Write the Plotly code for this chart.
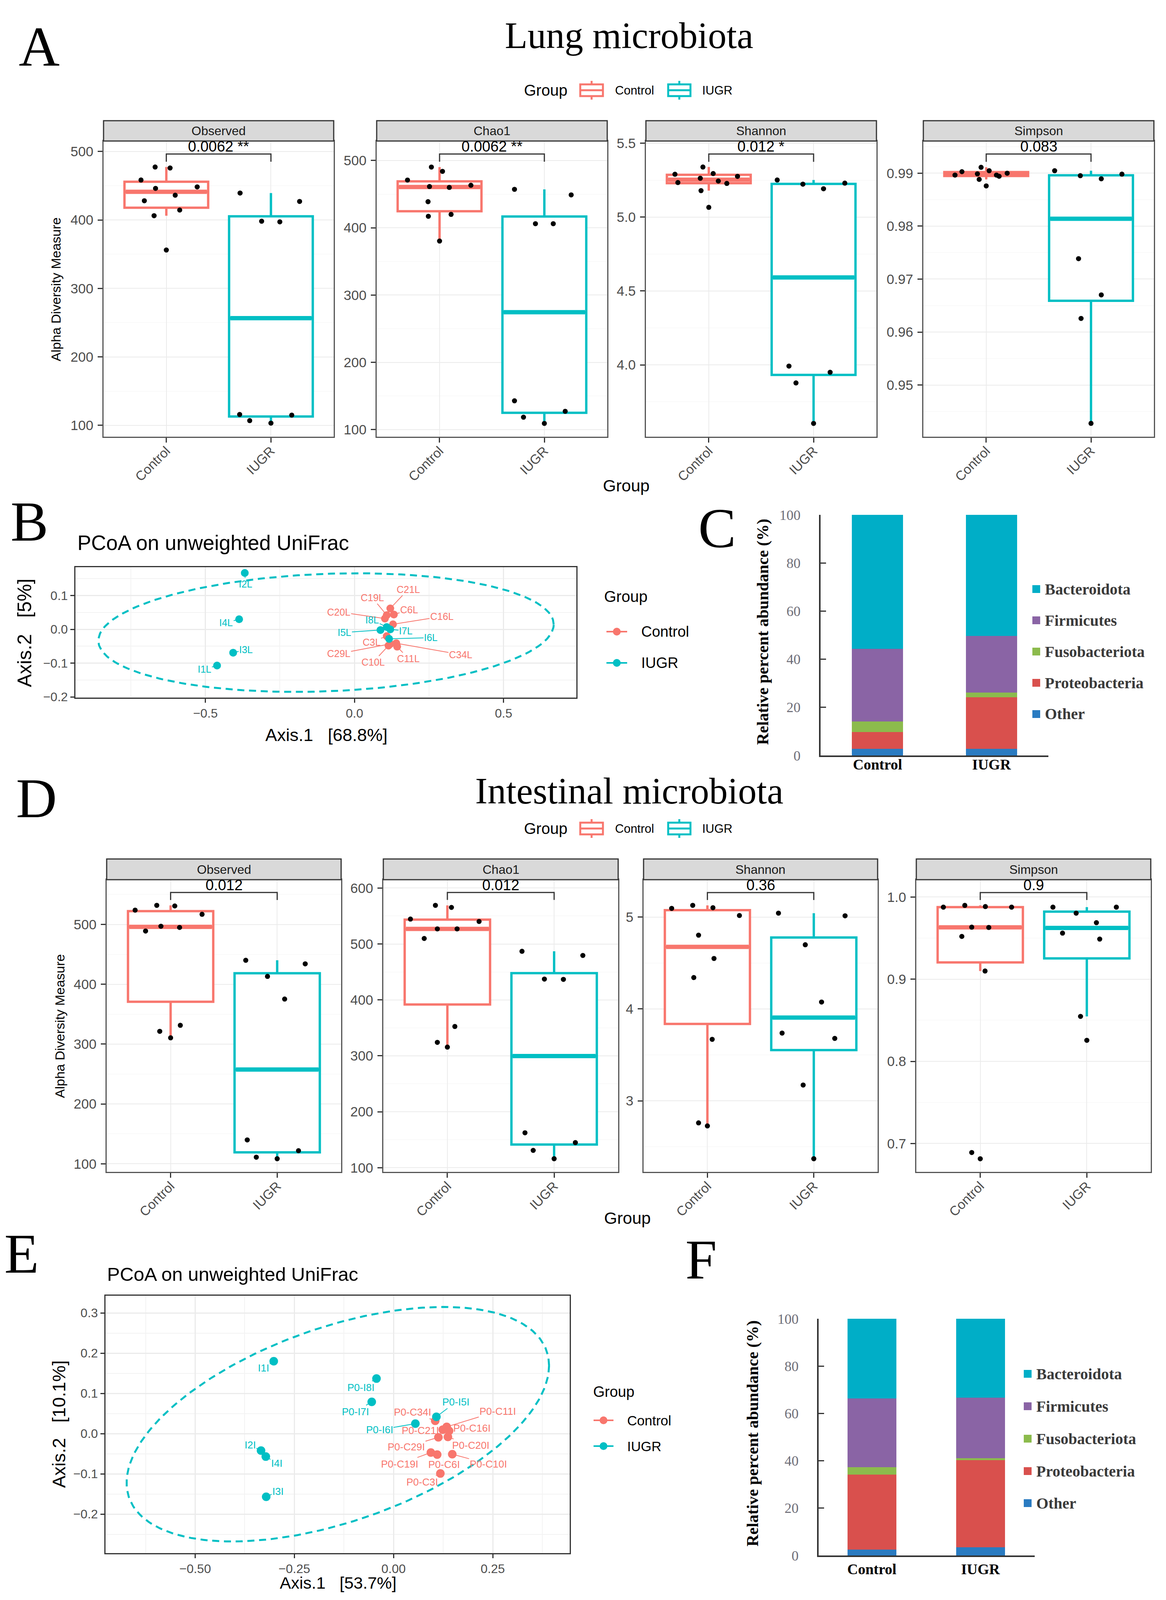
import numpy as np
import plotly.graph_objects as go

W, H = 2984, 4102
OFF = 8  # page body margin compensation (px)

# ===================== DATA =====================
groups = ["Control", "IUGR"]
metrics = ["Observed", "Chao1", "Shannon", "Simpson"]

# Panel A - lung alpha diversity
lung_observed_control = [477.4, 476.0, 458.4, 446.2, 448.4, 436.2, 428.1, 414.5, 406.3, 356.1]
lung_observed_iugr = [439.4, 427.1, 398.2, 397.3, 115.8, 106.8, 103.2, 114.9]
lung_chao1_control = [471.0, 490.3, 483.9, 461.3, 460.0, 463.2, 438.8, 417.1, 419.9, 380.3]
lung_chao1_iugr = [457.2, 448.9, 406.1, 406.1, 142.8, 118.4, 109.2, 127.2]
lung_shannon_control = [5.339, 5.290, 5.295, 5.263, 5.276, 5.234, 5.244, 5.228, 5.179, 5.066]
lung_shannon_iugr = [5.251, 5.223, 5.192, 5.230, 3.992, 3.878, 3.950, 3.604]
lung_simpson_control = [0.98965, 0.99029, 0.99111, 0.98988, 0.99047, 0.98965, 0.98942, 0.99000, 0.98883, 0.98760]
lung_simpson_iugr = [0.99047, 0.98953, 0.98895, 0.98982, 0.97386, 0.96702, 0.96257, 0.94275]
lung_pvalues = ["0.0062 **", "0.0062 **", "0.012 *", "0.083"]

# Panel D - intestinal alpha diversity
int_observed_control = [523.9, 531.9, 530.9, 517.0, 489.0, 497.0, 495.0, 331.4, 321.4, 310.5]
int_observed_iugr = [440.1, 434.2, 413.2, 375.3, 139.9, 111.0, 108.5, 121.9]
int_chao1_control = [544.5, 569.0, 565.3, 540.2, 526.9, 526.9, 509.8, 352.4, 324.1, 315.6]
int_chao1_iugr = [486.9, 479.4, 437.2, 436.7, 162.4, 130.9, 116.0, 144.8]
int_shannon_control = [5.094, 5.127, 5.101, 5.016, 4.802, 4.549, 4.341, 3.669, 2.760, 2.727]
int_shannon_iugr = [5.042, 5.013, 4.698, 4.075, 3.737, 3.679, 3.172, 2.370]
int_simpson_control = [0.98765, 0.98983, 0.98838, 0.98765, 0.96331, 0.96295, 0.95205, 0.90992, 0.68906, 0.68144]
int_simpson_iugr = [0.98765, 0.98765, 0.98039, 0.96876, 0.95605, 0.94878, 0.85471, 0.82564]
int_pvalues = ["0.012", "0.012", "0.36", "0.9"]

# Panel B - lung PCoA (unweighted UniFrac)
lung_ctrl_ids = ["C21L", "C19L", "C6L", "C20L", "C16L", "C3L", "C29L", "C34L", "C10L", "C11L"]
lung_ctrl_axis1 = [0.120, 0.108, 0.132, 0.102, 0.129, 0.108, 0.120, 0.140, 0.114, 0.143]
lung_ctrl_axis2 = [0.062, 0.042, 0.044, 0.032, 0.015, -0.020, -0.043, -0.041, -0.048, -0.051]
lung_iugr_ids = ["I1L", "I2L", "I3L", "I4L", "I5L", "I6L", "I7L", "I8L"]
lung_iugr_axis1 = [-0.461, -0.368, -0.407, -0.387, 0.087, 0.116, 0.120, 0.108]
lung_iugr_axis2 = [-0.107, 0.167, -0.069, 0.030, -0.002, -0.028, 0.000, 0.007]

# Panel E - intestinal PCoA
int_ctrl_ids = ["P0-C34I", "P0-C21I", "P0-C11I", "P0-C16I", "P0-C20I", "P0-C29I", "P0-C19I", "P0-C6I", "P0-C10I", "P0-C3I"]
int_ctrl_axis1 = [0.105, 0.124, 0.134, 0.140, 0.137, 0.113, 0.094, 0.110, 0.148, 0.118]
int_ctrl_axis2 = [0.032, 0.010, 0.017, 0.007, -0.008, -0.009, -0.047, -0.052, -0.051, -0.099]
int_iugr_ids = ["I1I", "P0-I8I", "P0-I7I", "P0-I6I", "P0-I5I", "I2I", "I4I", "I3I"]
int_iugr_axis1 = [-0.302, -0.043, -0.055, 0.055, 0.108, -0.334, -0.322, -0.321]
int_iugr_axis2 = [0.180, 0.137, 0.079, 0.025, 0.042, -0.042, -0.057, -0.157]

# Panels C / F - phylum composition (%), stacked bottom to top
phyla = ["Other", "Proteobacteria", "Fusobacteriota", "Firmicutes", "Bacteroidota"]
lung_phyla_control = [2.75, 7.0, 4.3, 30.3, 55.65]
lung_phyla_iugr = [2.75, 21.4, 2.0, 23.5, 50.35]
int_phyla_control = [2.5, 31.6, 3.2, 29.0, 33.7]
int_phyla_iugr = [3.4, 36.9, 0.8, 25.5, 33.4]

# ===================== POSITIONS / STYLES =====================
lung_jitter = [
    ([-0.107, 0.036, -0.242, -0.103, 0.295, 0.085, -0.210, 0.128, -0.117, 0.0],
     [-0.295, 0.274, -0.089, 0.085, -0.299, -0.203, 0.0, 0.199]),
    ([-0.306, -0.078, 0.028, -0.096, 0.093, 0.299, -0.110, -0.107, 0.110, 0.0],
     [-0.285, 0.256, -0.085, 0.085, -0.285, -0.199, 0.0, 0.199]),
    ([-0.056, -0.323, 0.042, -0.081, 0.274, -0.295, 0.091, 0.172, -0.074, 0.0],
     [-0.347, -0.102, 0.095, 0.298, -0.235, -0.168, 0.158, 0.0]),
    ([-0.298, -0.232, -0.049, -0.084, 0.028, 0.098, 0.123, 0.200, -0.067, 0.0],
     [-0.347, -0.102, 0.098, 0.295, -0.119, 0.098, -0.095, 0.0]),
]
int_jitter = [
    ([-0.333, -0.130, 0.039, 0.295, -0.235, -0.091, 0.084, 0.091, -0.102, 0.0],
     [-0.295, 0.263, -0.091, 0.070, -0.281, -0.196, 0.0, 0.200]),
    ([-0.346, -0.112, 0.038, 0.297, -0.094, 0.091, -0.217, 0.070, -0.094, 0.0],
     [-0.301, 0.269, -0.091, 0.087, -0.273, -0.196, 0.0, 0.199]),
    ([-0.336, -0.138, 0.052, 0.301, -0.083, 0.062, -0.128, 0.045, -0.083, 0.0],
     [-0.332, 0.294, -0.080, 0.073, -0.298, 0.197, -0.100, 0.0]),
    ([-0.346, -0.145, 0.048, 0.294, -0.080, 0.080, -0.173, 0.045, -0.080, 0.0],
     [-0.318, 0.277, -0.100, 0.090, -0.228, 0.121, -0.059, 0.0]),
]
lung_bracket = [(496.4, 485.1), (509.7, 498.2), (5.427, 5.374), (0.99363, 0.99216)]
int_bracket = [(553.4, 540.9), (592.0, 578.7), (5.266, 5.185), (1.00545, 0.99637)]
lung_yranges = [[83.3, 515.4], [89.4, 529.0], [3.514, 5.515], [0.94023, 0.99608]]
int_yranges = [[86.5, 574.8], [92.5, 614.9], [2.227, 5.406], [0.6655, 1.0211]]
lung_ticks = [(100, 50, "d"), (100, 50, "d"), (0.5, 0.25, ".1f"), (0.01, 0.005, ".2f")]
int_ticks = [(100, 50, "d"), (100, 50, "d"), (1, 0.5, "d"), (0.1, 0.05, ".1f")]
lung_xpx = [(265, 854), (964, 1554), (1653, 2243), (2363, 2953)]
int_xpx = [(273, 873), (981, 1582), (1647, 2246), (2345, 2945)]

lung_ctrl_off = [(46, -49), (-37, -45), (39, -12), (-118, -17), (125, -20), (-39, 15), (-132, 25), (165, 29), (-39, 42), (29, 31)]
lung_iugr_off = [(-32, 9), (2, 28), (33, -8), (-33, 9), (-92, 6), (107, -3), (40, 4), (-37, -18)]
int_ctrl_off = [(-58, -22), (-58, 2), (130, -40), (58, -7), (58, 22), (-82, 25), (-80, 29), (18, 25), (92, 25), (-46, 22)]
int_iugr_off = [(-26, 17), (-40, 23), (-42, 25), (-92, 16), (50, -38), (-28, -14), (28, 17), (30, -14)]

lung_ellipse = dict(cx=-0.0955, cy=-0.0095, rx=0.7635, ry=0.1755, d=0.137)
int_ellipse = dict(cx=-0.1405, cy=0.0235, rx=0.5325, ry=0.2915, d=0.523)

COL = {"Control": "#F8766D", "IUGR": "#00BFC4"}
PHY_COL = {"Other": "#2A7BC1", "Proteobacteria": "#D9504D", "Fusobacteriota": "#8CBB4C",
           "Firmicutes": "#8A64A5", "Bacteroidota": "#00AEC7"}
SANS = "Liberation Sans"
SERIF = "Liberation Serif"
TICKGRAY = "#4D4D4D"

fig = go.Figure()
layout = {}
annotations = []
shapes = []


def names(i):
    s = "" if i == 1 else str(i)
    return "x" + s, "y" + s, "xaxis" + s, "yaxis" + s


def fx(px):
    return (px - OFF) / W


def fy(py):
    return 1 - (py - OFF) / H


def dom_x(a, b):
    return [fx(a), fx(b)]


def dom_y(top, bottom):
    return [fy(bottom), fy(top)]


def ptext(x, y, text, size, family=SANS, anchor="center", angle=0, weight="normal", color="black"):
    annotations.append(dict(x=fx(x), y=fy(y), xref="paper", yref="paper", text=text, showarrow=False,
                            textangle=angle, xanchor=anchor, yanchor="middle",
                            font=dict(size=size, family=family, color=color, weight=weight)))


def pshape(kind, x0, y0, x1, y1, **kw):
    shapes.append(dict(type=kind, xref="paper", yref="paper", x0=fx(x0), x1=fx(x1),
                       y0=fy(y1), y1=fy(y0), **kw))


def box_stats(v):
    v = np.asarray(v, float)
    q1, med, q3 = np.percentile(v, [25, 50, 75])
    iqr = q3 - q1
    lo = v[v >= q1 - 1.5 * iqr].min()
    hi = v[v <= q3 + 1.5 * iqr].max()
    return q1, med, q3, lo, hi


BOX_W = 0.8


def box_panel(i, xpx, ypx, strip_px, yrange, tk, data, jit, ptxt, bracket, label):
    xa, ya, xk, yk = names(i)
    for g in range(2):
        name = groups[g]
        vals = data[g]
        q1, med, q3, lo, hi = box_stats(vals)
        fig.add_trace(go.Box(x=[g], q1=[q1], median=[med], q3=[q3], lowerfence=[lo], upperfence=[hi],
                             width=BOX_W, whiskerwidth=0, fillcolor="white",
                             line=dict(color=COL[name], width=6), boxpoints=False,
                             name=name, showlegend=False, xaxis=xa, yaxis=ya, hoverinfo="skip"))
        fig.add_trace(go.Scatter(x=[g - BOX_W / 2 + 0.012, g + BOX_W / 2 - 0.012], y=[med, med], mode="lines",
                                 line=dict(color=COL[name], width=11), showlegend=False,
                                 xaxis=xa, yaxis=ya, hoverinfo="skip"))
        fig.add_trace(go.Scatter(x=g + np.asarray(jit[g]), y=vals, mode="markers",
                                 marker=dict(color="black", size=13), showlegend=False,
                                 xaxis=xa, yaxis=ya))
    yb, yt = bracket
    fig.add_trace(go.Scatter(x=[0, 0, 1, 1], y=[yt, yb, yb, yt], mode="lines",
                             line=dict(color="#333333", width=3), showlegend=False,
                             xaxis=xa, yaxis=ya, hoverinfo="skip"))
    annotations.append(dict(x=0.5, y=yb, xref=xa, yref=ya, text=ptxt, showarrow=False,
                            yanchor="bottom", yshift=-4, font=dict(size=38, color="black", family=SANS)))
    dt, mdt, fmt = tk
    layout[xk] = dict(domain=dom_x(*xpx), anchor=ya, range=[-0.6, 1.6], tickvals=[0, 1], ticktext=groups,
                      tickangle=-45, showgrid=True, gridcolor="#EBEBEB", gridwidth=2, zeroline=False,
                      showline=True, mirror=True, linecolor="#555555", linewidth=3, automargin=False,
                      ticks="outside", ticklen=12, tickcolor="#333333", tickwidth=2.5,
                      ticklabelstandoff=-12,
                      tickfont=dict(size=34, color=TICKGRAY, family=SANS))
    layout[yk] = dict(domain=dom_y(*ypx), anchor=xa, range=yrange, dtick=dt, tick0=0, tickformat=fmt,
                      showgrid=True, gridcolor="#EBEBEB", gridwidth=2, zeroline=False,
                      minor=dict(dtick=mdt, tick0=0, showgrid=True, gridcolor="#F4F4F4", gridwidth=1),
                      showline=True, mirror=True, linecolor="#555555", linewidth=3, automargin=False,
                      ticks="outside", ticklen=12, tickcolor="#333333", tickwidth=2.5,
                      ticklabelstandoff=4,
                      tickfont=dict(size=35, color=TICKGRAY, family=SANS))
    pshape("rect", xpx[0], strip_px[0], xpx[1], strip_px[1],
           fillcolor="#D9D9D9", line=dict(color="#333333", width=3), layer="above")
    ptext((xpx[0] + xpx[1]) / 2, (strip_px[0] + strip_px[1]) / 2, label, 32, color="#1A1A1A")


lung_data = [(lung_observed_control, lung_observed_iugr), (lung_chao1_control, lung_chao1_iugr),
             (lung_shannon_control, lung_shannon_iugr), (lung_simpson_control, lung_simpson_iugr)]
for k in range(4):
    box_panel(1 + k, lung_xpx[k], (361, 1118), (309, 361), lung_yranges[k], lung_ticks[k],
              lung_data[k], lung_jitter[k], lung_pvalues[k], lung_bracket[k], metrics[k])

int_data = [(int_observed_control, int_observed_iugr), (int_chao1_control, int_chao1_iugr),
            (int_shannon_control, int_shannon_iugr), (int_simpson_control, int_simpson_iugr)]
for k in range(4):
    box_panel(7 + k, int_xpx[k], (2252, 3000), (2199, 2252), int_yranges[k], int_ticks[k],
              int_data[k], int_jitter[k], int_pvalues[k], int_bracket[k], metrics[k])


def pcoa_panel(i, xpx, ypx, xrange, yrange, xdt, ydt, xfmt, yfmt, ctrl, iugr, ell, msize, lsize, tsize):
    xa, ya, xk, yk = names(i)
    t = np.linspace(0, 2 * np.pi, 240)
    ex = ell["cx"] + ell["rx"] * np.cos(t)
    ey = ell["cy"] + ell["ry"] * np.sin(t + ell["d"])
    fig.add_trace(go.Scatter(x=ex, y=ey, mode="lines", line=dict(color=COL["IUGR"], width=5, dash="18px,12px"),
                             showlegend=False, xaxis=xa, yaxis=ya, hoverinfo="skip"))
    for name, (ids, xs, ys, offs) in zip(groups, [ctrl, iugr]):
        fig.add_trace(go.Scatter(x=xs, y=ys, mode="markers", marker=dict(color=COL[name], size=msize),
                                 showlegend=False, xaxis=xa, yaxis=ya, text=ids, name=name))
        for k in range(len(ids)):
            annotations.append(dict(x=xs[k], y=ys[k], xref=xa, yref=ya, text=ids[k], showarrow=True,
                                    arrowhead=0, arrowwidth=2, arrowcolor=COL[name], standoff=6,
                                    ax=offs[k][0], ay=offs[k][1],
                                    font=dict(size=lsize, color=COL[name], family=SANS)))
    common = dict(showgrid=True, gridcolor="#EBEBEB", gridwidth=3, zeroline=False, showline=True, mirror=True,
                  linecolor="#333333", linewidth=3, ticks="outside", ticklen=10, tickcolor="#333333", tickwidth=2.5,
                  automargin=False, tickfont=dict(size=tsize, color=TICKGRAY, family=SANS))
    layout[xk] = dict(domain=dom_x(*xpx), anchor=ya, range=xrange, dtick=xdt, tick0=0, tickformat=xfmt,
                      minor=dict(dtick=xdt / 2, tick0=0, showgrid=True, gridcolor="#F3F3F3", gridwidth=2),
                      **common)
    layout[yk] = dict(domain=dom_y(*ypx), anchor=xa, range=yrange, dtick=ydt, tick0=0, tickformat=yfmt,
                      minor=dict(dtick=ydt / 2, tick0=0, showgrid=True, gridcolor="#F3F3F3", gridwidth=2),
                      **common)


pcoa_panel(5, (193, 1475), (1452, 1786), [-0.936, 0.744], [-0.202, 0.184], 0.5, 0.1, ".1f", ".1f",
           (lung_ctrl_ids, lung_ctrl_axis1, lung_ctrl_axis2, lung_ctrl_off),
           (lung_iugr_ids, lung_iugr_axis1, lung_iugr_axis2, lung_iugr_off),
           lung_ellipse, 20, 25, 32)
pcoa_panel(11, (270, 1458), (3317, 3976), [-0.726, 0.444], [-0.297, 0.343], 0.25, 0.1, ".2f", ".1f",
           (int_ctrl_ids, int_ctrl_axis1, int_ctrl_axis2, int_ctrl_off),
           (int_iugr_ids, int_iugr_axis1, int_iugr_axis2, int_iugr_off),
           int_ellipse, 22, 26, 32)


def bar_panel(i, xpx, ypx, xrange, ctrl, iugr, xstand):
    xa, ya, xk, yk = names(i)
    for k, ph in enumerate(phyla):
        fig.add_trace(go.Bar(x=[0, 1], y=[ctrl[k], iugr[k]], width=0.45, name=ph,
                             marker=dict(color=PHY_COL[ph], line=dict(width=0)),
                             showlegend=False, xaxis=xa, yaxis=ya))
    layout[xk] = dict(domain=dom_x(*xpx), anchor=ya, range=xrange, tickvals=[0, 1], ticktext=groups,
                      showgrid=False, zeroline=False, showline=True, linecolor="#333333", linewidth=4,
                      ticks="", ticklabelstandoff=xstand, automargin=False,
                      tickfont=dict(size=38, color="black", family=SERIF, weight="bold"))
    layout[yk] = dict(domain=dom_y(*ypx), anchor=xa, range=[0, 100], dtick=20, showgrid=False,
                      zeroline=False, showline=True, linecolor="#333333", linewidth=4,
                      ticks="inside", ticklen=14, tickcolor="#333333", tickwidth=3,
                      ticklabelstandoff=40, automargin=False,
                      tickfont=dict(size=36, color="#6E6E78", family=SERIF))


bar_panel(6, (2100, 2683), (1318, 1934), [-0.5, 1.5], lung_phyla_control, lung_phyla_iugr, -14)
bar_panel(12, (2095, 2648), (3376, 3982), [-0.49, 1.5], int_phyla_control, int_phyla_iugr, -2)

# ---------- Legends (drawn as keys + text) ----------
BOX_LEG_X = [(1485, 1543, 1572), (1710, 1767, 1795)]


def box_legend(yc):
    ptext(1339, yc, "Group", 40, anchor="left")
    for name, (x0, x1, tx) in zip(groups, BOX_LEG_X):
        c = COL[name]
        xm = (x0 + x1) / 2
        pshape("rect", x0, yc - 15, x1, yc + 15, line=dict(color=c, width=5), fillcolor="white")
        pshape("line", x0, yc, x1, yc, line=dict(color=c, width=5))
        pshape("line", xm, yc - 24, xm, yc - 15, line=dict(color=c, width=5))
        pshape("line", xm, yc + 15, xm, yc + 24, line=dict(color=c, width=5))
        ptext(tx, yc, name, 31, anchor="left")


def pcoa_legend(tx, ty, tsize, rows, line_x, text_x, fsize, msize):
    ptext(tx, ty, "Group", tsize, anchor="left")
    for name, y in zip(groups, rows):
        c = COL[name]
        pshape("line", line_x[0], y, line_x[1], y, line=dict(color=c, width=4))
        xm = (line_x[0] + line_x[1]) / 2
        r = msize / 2
        pshape("circle", xm - r, y - r, xm + r, y + r, fillcolor=c, line=dict(color=c, width=0))
        ptext(text_x, y, name, fsize, anchor="left")


def bar_legend(sq_x, text_x, rows, fsize):
    for ph, y in zip(phyla[::-1], rows):
        pshape("rect", sq_x, y - 10, sq_x + 20, y + 10, fillcolor=PHY_COL[ph], line=dict(width=0))
        ptext(text_x, y, ph, fsize, SERIF, anchor="left", weight="bold", color="#3A3A3A")


box_legend(231)
box_legend(2121)
pcoa_legend(1544, 1527, 40, [1617, 1697], (1552, 1605), 1639, 38, 20)
pcoa_legend(1516, 3563, 38, [3636, 3702], (1519, 1570), 1603, 35, 20)
bar_legend(2642, 2672, [1508, 1588, 1668, 1748, 1828], 40)
bar_legend(2620, 2650, [3517, 3600, 3683, 3766, 3848], 40)

# ---------- Text ----------
for letter, (lx, ly) in zip("ABCDEF", [(100, 119), (75, 1335), (1835, 1352), (93, 2043), (55, 3209), (1794, 3224)]):
    ptext(lx, ly, letter, 145, SERIF)

ptext(1610, 91, "Lung microbiota", 95, SERIF)
ptext(1610, 2025, "Intestinal microbiota", 95, SERIF)

ptext(143, 741, "Alpha Diversity Measure", 34, angle=-90)
ptext(153, 2627, "Alpha Diversity Measure", 34, angle=-90)
ptext(1603, 1243, "Group", 43)
ptext(1606, 3118, "Group", 43)
ptext(545, 1390, "PCoA on unweighted UniFrac", 53)
ptext(595, 3262, "PCoA on unweighted UniFrac", 49)
ptext(835, 1882, "Axis.1\u00a0\u00a0\u00a0[68.8%]", 45)
ptext(63, 1620, "Axis.2\u00a0\u00a0\u00a0[5%]", 50, angle=-90)
ptext(865, 4052, "Axis.1\u00a0\u00a0\u00a0[53.7%]", 43)
ptext(150, 3646, "Axis.2\u00a0\u00a0\u00a0[10.1%]", 47, angle=-90)
ptext(1952, 1618, "Relative percent abundance (%)", 42, SERIF, angle=-90, weight="bold")
ptext(1926, 3670, "Relative percent abundance (%)", 42, SERIF, angle=-90, weight="bold")

fig.update_layout(width=W, height=H, margin=dict(l=0, r=0, t=0, b=0, pad=0, autoexpand=False),
                  paper_bgcolor="white", plot_bgcolor="white", barmode="stack", boxmode="overlay",
                  showlegend=False, font=dict(family=SANS), annotations=annotations, shapes=shapes, **layout)

fig.write_html("out.html")
